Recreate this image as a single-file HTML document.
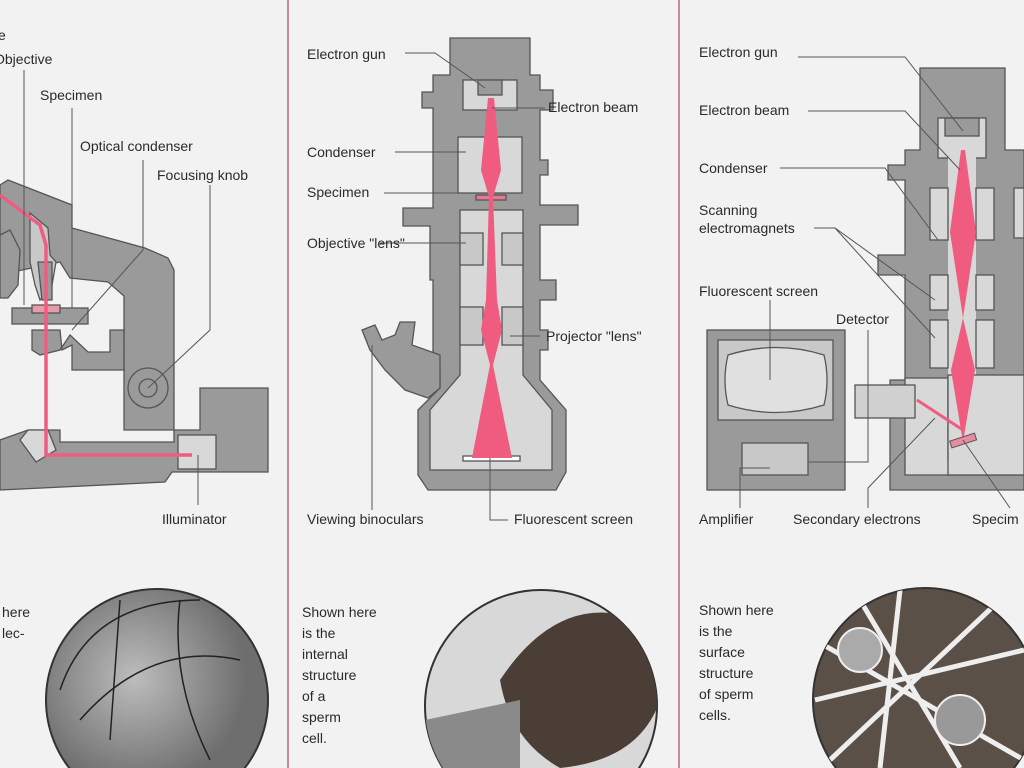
<!DOCTYPE html>
<html><head><meta charset="utf-8"><style>
html,body{margin:0;padding:0;background:#f2f2f2;width:1024px;height:768px;overflow:hidden;}
svg{display:block;position:absolute;left:0;top:0}
text{font-family:"Liberation Sans",sans-serif;font-size:14px;fill:#2a2a2a}
</style></head><body>
<svg width="1024" height="768" viewBox="0 0 1024 768" xmlns="http://www.w3.org/2000/svg">
<rect width="1024" height="768" fill="#f2f2f2"/>
<line x1="288" y1="0" x2="288" y2="768" stroke="#c98a98" stroke-width="2"/>
<line x1="679" y1="0" x2="679" y2="768" stroke="#c98a98" stroke-width="2"/>

<g stroke="#555" stroke-width="1.3">
<polygon points="0,185 8,180 72,205 72,228 145,248 168,258 174,270 174,430 124,430 124,296 108,282 70,278 60,262 22,270 0,275" fill="#9a9a9a"/>
<polygon points="0,235 10,230 20,250 18,285 8,298 0,298" fill="#9a9a9a"/>
<polygon points="30,213 48,228 50,255 56,262 52,285 40,300 35,285 30,262" fill="#c8c8c8"/>
<polygon points="38,262 52,262 52,300 42,300" fill="#9a9a9a"/>
<rect x="12" y="308" width="76" height="16" fill="#9a9a9a"/>
<rect x="32" y="305" width="28" height="8" fill="#e89aa8"/>
<polygon points="32,330 60,330 62,350 72,345 72,370 124,370 124,330 110,330 110,352 88,352 70,335 60,350 40,355 32,350" fill="#9a9a9a"/>
<polygon points="0,440 28,430 60,430 60,442 174,442 174,430 200,430 200,388 268,388 268,472 172,472 165,482 0,490" fill="#9a9a9a"/>
<rect x="178" y="435" width="38" height="34" fill="#d8d8d8"/>
<polygon points="28,430 48,430 56,450 36,462 20,440" fill="#d8d8d8"/>
<circle cx="148" cy="388" r="20" fill="none"/>
<circle cx="148" cy="388" r="9" fill="none"/>

<path d="M450,38 H530 V75 H540 V90 H553 V110 H540 V160 H548 V175 H540 V205 H578 V225 H540 V280 H556 V300 H540 V330 H548 V350 H540 V380 L566,410 V472 L556,490 H428 L418,475 V410 L440,388 V370 H433 V280 H430 V226 H403 V208 H433 V108 H422 V92 H433 V75 H450 Z" fill="#9a9a9a"/>
<rect x="463" y="80" width="54" height="30" fill="#d8d8d8"/>
<rect x="478" y="80" width="24" height="15" fill="#9a9a9a"/>
<rect x="458" y="137" width="64" height="56" fill="#d8d8d8"/>
<polygon points="460,210 523,210 523,375 552,410 552,470 430,470 430,410 460,375" fill="#d8d8d8"/>
<rect x="460" y="233" width="23" height="32" fill="#c8c8c8"/>
<rect x="502" y="233" width="21" height="32" fill="#c8c8c8"/>
<rect x="460" y="307" width="23" height="38" fill="#c8c8c8"/>
<rect x="502" y="307" width="21" height="38" fill="#c8c8c8"/>
<rect x="463" y="456" width="57" height="5" fill="#fff"/>
<rect x="476" y="195" width="30" height="5" fill="#e87890"/>
<polygon points="362,330 375,325 382,340 395,335 400,322 415,322 412,345 440,355 440,388 428,398 405,390 385,370 370,350" fill="#9a9a9a"/>

<path d="M920,68 H1005 V150 H1024 V490 H890 V380 H905 V275 H878 V255 H905 V180 H888 V165 H905 V150 H920 Z" fill="#9a9a9a"/>
<rect x="938" y="118" width="48" height="40" fill="#d8d8d8"/>
<rect x="945" y="118" width="34" height="18" fill="#9a9a9a"/>
<rect x="948" y="150" width="28" height="300" fill="#d8d8d8" stroke="none"/>
<rect x="930" y="188" width="18" height="52" fill="#d8d8d8"/>
<rect x="976" y="188" width="18" height="52" fill="#d8d8d8"/>
<rect x="930" y="275" width="18" height="35" fill="#d8d8d8"/>
<rect x="976" y="275" width="18" height="35" fill="#d8d8d8"/>
<rect x="930" y="320" width="18" height="48" fill="#d8d8d8"/>
<rect x="976" y="320" width="18" height="48" fill="#d8d8d8"/>
<polygon points="905,378 948,378 948,460 1024,460 1024,475 905,475" fill="#d8d8d8"/>
<rect x="948" y="375" width="76" height="100" fill="#d8d8d8"/>
<rect x="1014" y="188" width="10" height="50" fill="#d8d8d8"/>
<rect x="707" y="330" width="138" height="160" fill="#9a9a9a"/>
<rect x="718" y="340" width="115" height="80" fill="#c8c8c8"/>
<path d="M728,355 Q776,340 824,355 Q830,380 824,405 Q776,420 728,405 Q722,380 728,355 Z" fill="#e0e0e0"/>
<rect x="742" y="443" width="66" height="32" fill="#c8c8c8"/>
<rect x="855" y="385" width="60" height="33" fill="#d0d0d0"/>
</g>

<g fill="#ef5c80">
<polyline points="0,195 40,225 46,245 46,310 46,455 192,455" fill="none" stroke="#ef5c80" stroke-width="3.5"/>
<polygon points="488,98 494,98 501,170 493,197 497,300 502,330 493,365 512,458 472,458 490,365 481,330 486,300 489,197 481,170"/>
<polygon points="961,150 965,150 976,232 963,318 975,370 963,442 951,370 963,318 950,232"/>
<polyline points="917,400 963,430" fill="none" stroke="#ef5c80" stroke-width="3"/>
<rect x="950" y="437" width="26" height="7" transform="rotate(-18 963 440)" fill="#e88aa0" stroke="#555"/>
</g>

<g stroke="#555" stroke-width="1" fill="none">
<path d="M24,70 V305"/><path d="M72,108 V308"/><path d="M143,160 V250 L72,330"/>
<path d="M210,185 V330 L148,388"/><path d="M198,455 V505"/>
<path d="M405,53 H435 L485,88"/><path d="M492,108 H545"/>
<path d="M395,152 H466"/><path d="M384,193 H478"/><path d="M380,243 H466"/>
<path d="M510,336 H540"/><path d="M372,345 V510"/><path d="M490,458 V520 H508"/>
<path d="M798,57 H905 L963,131"/><path d="M808,111 H905 L960,170"/>
<path d="M780,168 H885 L938,240"/><path d="M814,228 H835 L935,300 M835,228 L935,338"/>
<path d="M770,300 V380"/><path d="M868,330 V462 H808"/><path d="M740,508 V468 H770"/>
<path d="M868,508 L868,488 L935,418"/><path d="M1010,508 L963,440"/>
</g>

<text x="-2" y="40">e</text>
<text x="-6" y="64">Objective</text>
<text x="40" y="100">Specimen</text>
<text x="80" y="151">Optical condenser</text>
<text x="157" y="180">Focusing knob</text>
<text x="162" y="524">Illuminator</text>
<text x="307" y="59">Electron gun</text>
<text x="548" y="112">Electron beam</text>
<text x="307" y="157">Condenser</text>
<text x="307" y="197">Specimen</text>
<text x="307" y="248">Objective "lens"</text>
<text x="546" y="341">Projector "lens"</text>
<text x="307" y="524">Viewing binoculars</text>
<text x="514" y="524">Fluorescent screen</text>
<text x="699" y="57">Electron gun</text>
<text x="699" y="115">Electron beam</text>
<text x="699" y="173">Condenser</text>
<text x="699" y="215">Scanning</text>
<text x="699" y="233">electromagnets</text>
<text x="699" y="296">Fluorescent screen</text>
<text x="836" y="324">Detector</text>
<text x="699" y="524">Amplifier</text>
<text x="793" y="524">Secondary electrons</text>
<text x="972" y="524">Specim</text>
<g style="font-size:15.5px">
<text x="2" y="617">here</text><text x="2" y="638">lec-</text>
<text x="302" y="617">Shown here</text><text x="302" y="638">is the</text><text x="302" y="659">internal</text><text x="302" y="680">structure</text><text x="302" y="701">of a</text><text x="302" y="722">sperm</text><text x="302" y="743">cell.</text>
<text x="699" y="615">Shown here</text><text x="699" y="636">is the</text><text x="699" y="657">surface</text><text x="699" y="678">structure</text><text x="699" y="699">of sperm</text><text x="699" y="720">cells.</text>
</g>

<defs>
<radialGradient id="g1" cx="0.4" cy="0.4"><stop offset="0" stop-color="#bdbdbd"/><stop offset="1" stop-color="#6e6e6e"/></radialGradient>
<clipPath id="c2"><circle cx="541" cy="706" r="116"/></clipPath>
<clipPath id="c3"><circle cx="925" cy="700" r="112"/></clipPath>
</defs>
<circle cx="157" cy="700" r="111" fill="url(#g1)" stroke="#333" stroke-width="2"/>
<g stroke="#222" fill="none" stroke-width="1.5">
<path d="M60,690 Q90,600 200,600"/><path d="M80,720 Q150,640 240,660"/><path d="M120,600 L110,740"/><path d="M180,600 Q170,680 210,760"/>
</g>
<circle cx="541" cy="706" r="116" fill="#d8d8d8" stroke="#333" stroke-width="2"/>
<g clip-path="url(#c2)">
<path d="M500,680 Q560,590 640,620 L660,700 Q640,760 560,768 Q510,740 500,680 Z" fill="#4a3e36"/>
<path d="M425,720 L520,700 L520,768 L425,768 Z" fill="#8a8a8a"/>
</g>
<circle cx="925" cy="700" r="112" fill="#5a5048" stroke="#333" stroke-width="2"/>
<g clip-path="url(#c3)" stroke="#eee" stroke-width="5" fill="none">
<path d="M815,640 L1024,760"/><path d="M830,760 L1000,600"/><path d="M860,600 L960,768"/><path d="M815,700 L1024,650"/><path d="M900,590 L880,768"/>
<circle cx="860" cy="650" r="22" fill="#aaa" stroke-width="2"/><circle cx="960" cy="720" r="25" fill="#999" stroke-width="2"/>
</g>
</svg>
</body></html>
